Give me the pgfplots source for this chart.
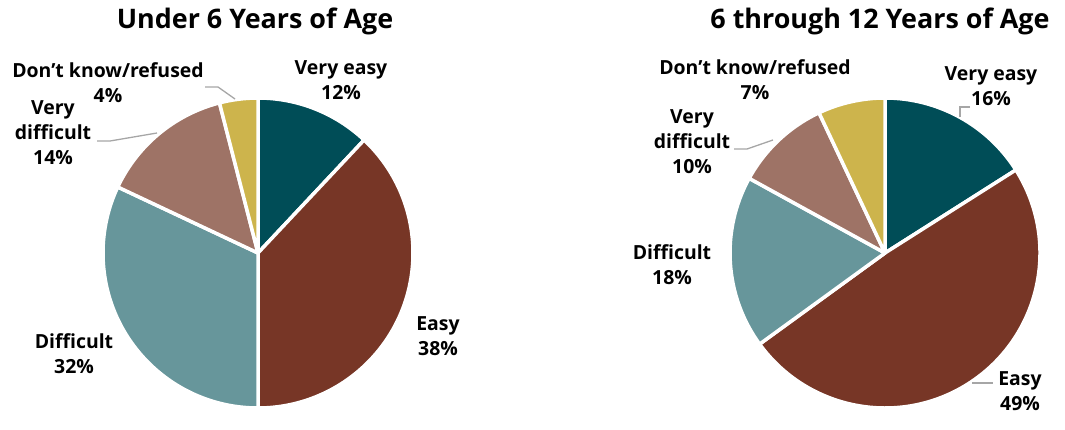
\documentclass[border=0pt]{standalone}
\usepackage{pgfplots}
\pgfplotsset{compat=1.18}
\usepackage{pgfplotstable}
\usepackage{fontspec}
\setmainfont{Open Sans}

\definecolor{veasy}{RGB}{0,77,87}
\definecolor{easy}{RGB}{119,54,38}
\definecolor{diff}{RGB}{103,150,155}
\definecolor{vdiff}{RGB}{158,115,102}
\definecolor{dk}{RGB}{205,180,76}
\definecolor{leader}{RGB}{166,166,166}

% shares in percent, clockwise from 12 o'clock
\pgfplotstableread{
value color
12 veasy
38 easy
32 diff
14 vdiff
4  dk
}\underSix
\pgfplotstableread{
value color
16 veasy
49 easy
18 diff
10 vdiff
7  dk
}\sixToTwelve

\def\radius{155bp}
\newcommand\drawpie[3]{% table, centre x, centre y
  \pgfplotstablegetrowsof{#1}%
  \pgfmathtruncatemacro\nrows{\pgfplotsretval-1}%
  \def\cum{0}%
  \pgfplotsforeachungrouped \i in {0,...,\nrows}{%
    \pgfplotstablegetelem{\i}{value}\of{#1}\let\val\pgfplotsretval
    \pgfplotstablegetelem{\i}{color}\of{#1}\let\col\pgfplotsretval
    \pgfmathsetmacro\aone{90-3.6*\cum}%
    \pgfmathsetmacro\atwo{90-3.6*(\cum+\val)}%
    \pgfmathsetmacro\cum{\cum+\val}%
    \edef\temp{\noexpand\fill[\col, draw=white, line width=3.5bp, line join=round]
      (axis cs:#2,#3) -- ++(\aone:\radius)
      arc[start angle=\aone, end angle=\atwo, radius=\radius] -- cycle;}%
    \temp
  }}

\tikzset{
  lab/.style={font=\bfseries\fontsize{19.5}{25}\selectfont, align=center, inner sep=0pt},
  ttl/.style={font=\bfseries\fontsize{27}{32}\selectfont, inner sep=0pt, anchor=base},
  lead/.style={draw=leader, line width=1.3bp},
}

\begin{document}
\begin{tikzpicture}
\begin{axis}[
    width=1065bp, height=413bp, scale only axis,
    xmin=0, xmax=1065, ymin=0, ymax=413,
    hide axis, clip=false,
]
\path (axis cs:0,0) rectangle (axis cs:1065,413);

% Under 6
\drawpie{\underSix}{258}{160}
\node[ttl] at (axis cs:255,384) {Under 6 Years of Age};
\node[lab] at (axis cs:341,333) {Very easy\\12\%};
\node[lab] at (axis cs:438,77) {Easy\\38\%};
\node[lab] at (axis cs:74,59) {Difficult\\32\%};
\node[lab] at (axis cs:53,280) {Very\\difficult\\14\%};
\node[lab] at (axis cs:108,330) {Don’t know/refused\\4\%};
\draw[lead] (axis cs:205,326) -- (axis cs:218,326) -- (axis cs:235,314);
\draw[lead] (axis cs:97,272) -- (axis cs:110,272) -- (axis cs:157,280);

% 6 through 12
\drawpie{\sixToTwelve}{885}{160}
\node[ttl] at (axis cs:880,384) {6 through 12 Years of Age};
\node[lab] at (axis cs:991,327) {Very easy\\16\%};
\node[lab] at (axis cs:1020,22) {Easy\\49\%};
\node[lab] at (axis cs:672,148) {Difficult\\18\%};
\node[lab] at (axis cs:692,271) {Very\\difficult\\10\%};
\node[lab] at (axis cs:755,333) {Don’t know/refused\\7\%};
\draw[lead] (axis cs:970,306) -- (axis cs:960,306) -- (axis cs:960,296);
\draw[lead] (axis cs:734,264) -- (axis cs:747,264) -- (axis cs:773,273);
\draw[lead] (axis cs:972,30) -- (axis cs:993,30);
\end{axis}
\end{tikzpicture}
\end{document}
